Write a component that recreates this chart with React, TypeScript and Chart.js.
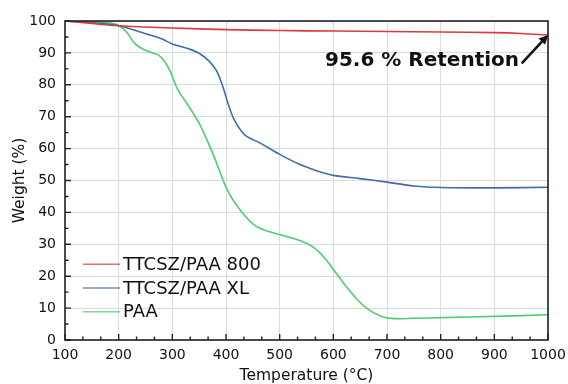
import React, { useEffect, useRef } from "react";
import { Chart, registerables } from "chart.js";

Chart.register(...registerables);

const seriesNames = ["TTCSZ/PAA 800", "TTCSZ/PAA XL", "PAA"];
const seriesColors = ["#e0383a", "#3e6ea8", "#4ccf6e"];

const redT = [100, 150, 200, 300, 400, 500, 600, 700, 800, 900, 950, 1000];
const redW = [100, 99.2, 98.5, 97.8, 97.3, 97.0, 96.85, 96.7, 96.55, 96.35, 96.1, 95.6];

const blueT = [100, 150, 200, 250, 280, 300, 330, 350, 368, 382, 394, 405, 417, 435, 463, 500, 538, 570, 600, 650, 700, 750, 800, 900, 1000];
const blueW = [100, 99.5, 98.5, 96.0, 94.4, 92.8, 91.3, 89.9, 87.5, 84.5, 79.5, 73.5, 68.5, 64.3, 61.8, 58.2, 55, 53, 51.6, 50.6, 49.5, 48.3, 47.8, 47.7, 47.9];

const greenT = [100, 150, 180, 200, 215, 230, 245, 260, 275, 287, 298, 310, 327, 351, 376, 404, 430, 455, 480, 510, 540, 565, 585, 605, 630, 660, 690, 715, 750, 800, 900, 1000];
const greenW = [100, 99.8, 99.5, 98.6, 96.5, 93.0, 91.2, 90.2, 89.2, 87, 83.5, 78.5, 74.2, 67.6, 58.2, 46.5, 40, 35.8, 34, 32.6, 31, 28.8, 25.5, 21, 15.5, 10.2, 7.4, 6.7, 6.8, 7.0, 7.4, 7.9];

const xTicksMajor = [100, 200, 300, 400, 500, 600, 700, 800, 900, 1000];
const yTicksMajor = [0, 10, 20, 30, 40, 50, 60, 70, 80, 90, 100];

const annotationText = "95.6 % Retention";
const annotationTextAt = [946, 87.6];
const arrowFrom = [951, 86.7];
const arrowTo = [1000, 95.6];

const toPts = (t: number[], w: number[]) => t.map((x, i) => ({ x, y: w[i] }));

const FONT = "'DejaVu Sans', Verdana, sans-serif";

const overlay = {
  id: "overlay",
  afterDraw(chart: any) {
    const ctx = chart.ctx;
    const { left, right, top, bottom } = chart.chartArea;
    const xs = chart.scales.x;
    const ys = chart.scales.y;
    ctx.save();
    ctx.strokeStyle = "#222";
    ctx.lineWidth = 1.6;
    ctx.strokeRect(left, top, right - left, bottom - top);
    ctx.lineWidth = 1.4;
    ctx.beginPath();
    for (let i = 0; i < xTicksMajor.length; i++) {
      const v = xTicksMajor[i];
      const px = xs.getPixelForValue(v);
      ctx.moveTo(px, bottom);
      ctx.lineTo(px, bottom - 6);
      if (i < xTicksMajor.length - 1) {
        const step = (xTicksMajor[i + 1] - v) / 3;
        for (let k = 1; k < 3; k++) {
          const mp = xs.getPixelForValue(v + step * k);
          ctx.moveTo(mp, bottom);
          ctx.lineTo(mp, bottom - 3.5);
        }
      }
    }
    for (let i = 0; i < yTicksMajor.length; i++) {
      const v = yTicksMajor[i];
      const py = ys.getPixelForValue(v);
      ctx.moveTo(left, py);
      ctx.lineTo(left + 6, py);
      if (i < yTicksMajor.length - 1) {
        const mp = ys.getPixelForValue((v + yTicksMajor[i + 1]) / 2);
        ctx.moveTo(left, mp);
        ctx.lineTo(left + 3.5, mp);
      }
    }
    ctx.stroke();

    ctx.font = `18px ${FONT}`;
    ctx.textBaseline = "middle";
    ctx.textAlign = "left";
    const legX = 83;
    const legY0 = 264.3;
    const legStep = 23.7;
    seriesNames.forEach((name, i) => {
      const y = legY0 + i * legStep;
      ctx.strokeStyle = seriesColors[i];
      ctx.globalAlpha = 0.75;
      ctx.lineWidth = 1.5;
      ctx.beginPath();
      ctx.moveTo(legX, y);
      ctx.lineTo(legX + 37, y);
      ctx.stroke();
      ctx.globalAlpha = 1;
      ctx.fillStyle = "#111";
      ctx.fillText(name, legX + 40, y + 1);
    });

    ctx.font = `bold 20px ${FONT}`;
    ctx.fillStyle = "#111";
    ctx.textAlign = "right";
    ctx.textBaseline = "middle";
    ctx.fillText(annotationText, xs.getPixelForValue(annotationTextAt[0]), ys.getPixelForValue(annotationTextAt[1]));
    const ax = xs.getPixelForValue(arrowFrom[0]);
    const ay = ys.getPixelForValue(arrowFrom[1]);
    const bx = xs.getPixelForValue(arrowTo[0]);
    const by = ys.getPixelForValue(arrowTo[1]);
    const ang = Math.atan2(by - ay, bx - ax);
    const headLen = 9;
    ctx.strokeStyle = "#111";
    ctx.lineWidth = 2.6;
    ctx.beginPath();
    ctx.moveTo(ax, ay);
    ctx.lineTo(bx - Math.cos(ang) * headLen * 0.8, by - Math.sin(ang) * headLen * 0.8);
    ctx.stroke();
    ctx.fillStyle = "#111";
    ctx.beginPath();
    ctx.moveTo(bx, by);
    ctx.lineTo(bx - headLen * Math.cos(ang) + 4.5 * Math.sin(ang), by - headLen * Math.sin(ang) - 4.5 * Math.cos(ang));
    ctx.lineTo(bx - headLen * Math.cos(ang) - 4.5 * Math.sin(ang), by - headLen * Math.sin(ang) + 4.5 * Math.cos(ang));
    ctx.closePath();
    ctx.fill();
    ctx.restore();
  },
};

export default function App() {
  const ref = useRef<HTMLCanvasElement | null>(null);
  useEffect(() => {
    document.body.style.margin = "0";
    const mk = (t: number[], w: number[], i: number) => ({
      label: seriesNames[i],
      data: toPts(t, w),
      borderColor: seriesColors[i],
      backgroundColor: seriesColors[i],
      borderWidth: 1.6,
      pointRadius: 0,
      tension: 0.35,
      fill: false,
    });
    const chart = new Chart(ref.current as HTMLCanvasElement, {
      type: "line",
      data: {
        datasets: [mk(redT, redW, 0), mk(blueT, blueW, 1), mk(greenT, greenW, 2)],
      },
      options: {
        animation: false,
        responsive: false,
        maintainAspectRatio: false,
        layout: { padding: { top: 21, right: 20, left: 0, bottom: 0 } },
        plugins: { legend: { display: false }, tooltip: { enabled: false } },
        scales: {
          x: {
            type: "linear",
            min: 100,
            max: 1000,
            afterFit: (s: any) => { s.height = 44; s.paddingRight = 0; s.paddingLeft = 0; },
            afterBuildTicks: (s: any) => { s.ticks = xTicksMajor.map((v) => ({ value: v })); },
            grid: { color: "#dcdcdc", lineWidth: 1, drawTicks: false },
            border: { display: false },
            ticks: { font: { family: FONT, size: 14 }, color: "#111", padding: 7, maxRotation: 0, callback: (v: any) => String(v) },
            title: { display: true, text: "Temperature (°C)", font: { family: FONT, size: 15.5 }, color: "#111", padding: { top: 0, bottom: -1.5 } },
          },
          y: {
            type: "linear",
            min: 0,
            max: 100,
            afterFit: (s: any) => { s.width = 65; s.paddingTop = 0; s.paddingBottom = 0; },
            afterBuildTicks: (s: any) => { s.ticks = yTicksMajor.map((v) => ({ value: v })); },
            grid: { color: "#dcdcdc", lineWidth: 1, drawTicks: false },
            border: { display: false },
            ticks: { font: { family: FONT, size: 14 }, color: "#111", padding: 9, callback: (v: any) => String(v) },
            title: { display: true, text: "Weight (%)", font: { family: FONT, size: 15.5 }, color: "#111", padding: { top: 11, bottom: 0 } },
          },
        },
      },
      plugins: [overlay],
    });
    return () => chart.destroy();
  }, []);
  return (
    <div style={{ width: 568, height: 384, background: "#fff" }}>
      <canvas ref={ref} width={568} height={384} style={{ display: "block" }} />
    </div>
  );
}
